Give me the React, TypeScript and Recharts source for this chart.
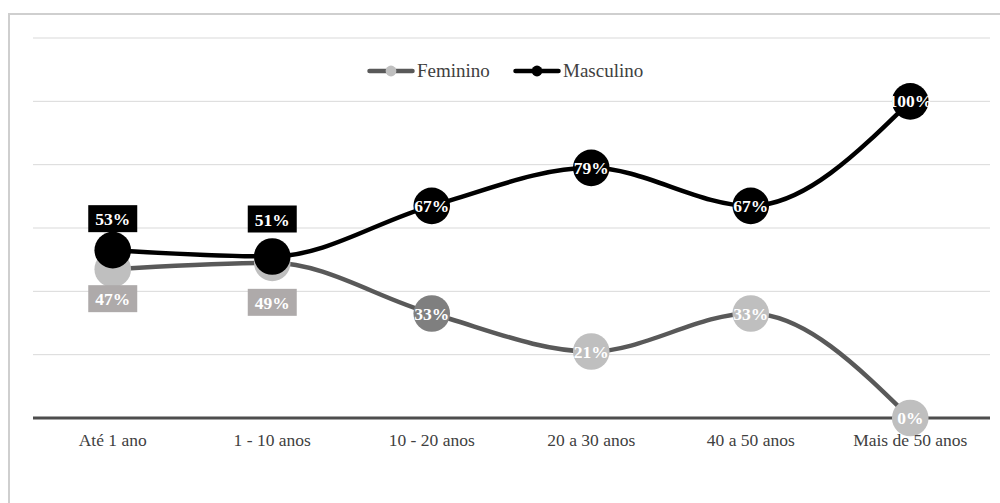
import React from 'react';
import { LineChart, Line, XAxis, YAxis, CartesianGrid, LabelList } from 'recharts';

// Faixas etárias e percentuais por sexo
const categories = ['Até 1 ano', '1 - 10 anos', '10 - 20 anos', '20 a 30 anos', '40 a 50 anos', 'Mais de 50 anos'];
const feminino = [47, 49, 33, 21, 33, 0];
const masculino = [53, 51, 67, 79, 67, 100];
const yTicks = [0, 20, 40, 60, 80, 100, 120];

const data = categories.map((faixa, i) => ({
  faixa,
  Feminino: feminino[i],
  Masculino: masculino[i],
}));

const SERIF = '"Liberation Serif", "Times New Roman", serif';
const FEM_LINE = '#595959';
const MASC_LINE = '#000000';
const femDotColors = ['#bfbfbf', '#bfbfbf', '#7f7f7f', '#bfbfbf', '#bfbfbf', '#bfbfbf'];
const DOT_R = 18.3;
// Meia largura de cada faixa do eixo de categorias (957 px / 6 / 2)
const HALF_BAND = 79.75;

// Rótulos em caixa: deslocamento vertical do topo da caixa em relação ao ponto
const mascBoxOffsets: Record<number, number> = { 0: -45, 1: -51 };
const femBoxOffsets: Record<number, number> = { 0: 16, 1: 26 };

const renderFemDot = (p: any) => (
  <circle key={`fd-${p.index}`} cx={p.cx} cy={p.cy} r={DOT_R} fill={femDotColors[p.index]} />
);
const renderMascDot = (p: any) => (
  <circle key={`md-${p.index}`} cx={p.cx} cy={p.cy} r={DOT_R} fill={MASC_LINE} />
);

const makeLabel = (offsets: Record<number, number>, boxFill: string) => (p: any) => {
  const x = p.x ?? p.viewBox?.x;
  const y = p.y ?? p.viewBox?.y;
  const index = p.index;
  const text = `${p.value}%`;
  const style = {
    fontFamily: SERIF,
    fontWeight: 700,
    fontSize: 17.5,
    fill: '#ffffff',
  } as const;
  if (offsets[index] !== undefined) {
    const top = y + offsets[index];
    return (
      <g key={`lb-${index}`}>
        <rect x={x - 24.5} y={top} width={49} height={27} fill={boxFill} />
        <text x={x} y={top + 20} textAnchor="middle" style={style}>
          {text}
        </text>
      </g>
    );
  }
  return (
    <text key={`lb-${index}`} x={x} y={y + 6} textAnchor="middle" style={style}>
      {text}
    </text>
  );
};

const femLabel = makeLabel(femBoxOffsets, '#aeaaaa');
const mascLabel = makeLabel(mascBoxOffsets, '#000000');

const LegendItem = ({ left, line, dot, label }: { left: number; line: string; dot: string; label: string }) => (
  <div
    style={{
      position: 'absolute',
      left,
      top: 58,
      display: 'flex',
      alignItems: 'center',
      fontFamily: SERIF,
      fontSize: 19,
      color: '#404040',
      lineHeight: '26px',
      whiteSpace: 'nowrap',
    }}
  >
    <svg width={48} height={26} style={{ display: 'block' }}>
      <line x1={2.5} y1={13} x2={45.5} y2={13} stroke={line} strokeWidth={4.5} strokeLinecap="round" />
      <circle cx={24} cy={13} r={5.4} fill={dot} />
    </svg>
    <span style={{ marginLeft: 2 }}>{label}</span>
  </div>
);

export default function App() {
  return (
    <div
      style={{
        position: 'fixed',
        left: 0,
        top: 0,
        width: 1000,
        height: 503,
        overflow: 'hidden',
        background: '#ffffff',
      }}
    >
      <div
        style={{
          position: 'absolute',
          left: 8,
          top: 13,
          width: 1010,
          height: 520,
          border: '2px solid #cfcfcf',
          boxSizing: 'border-box',
        }}
      />
      <div style={{ position: 'absolute', left: 0, top: 0 }}>
        <LineChart width={1000} height={503} data={data} margin={{ top: 38, right: 10, bottom: 55, left: 33 }}>
          <CartesianGrid vertical={false} stroke="#d9d9d9" strokeWidth={1} />
          <YAxis hide domain={[0, 120]} ticks={yTicks} type="number" />
          <XAxis
            dataKey="faixa"
            height={30}
            padding={{ left: HALF_BAND, right: HALF_BAND }}
            axisLine={{ stroke: '#4d4d4d', strokeWidth: 3 }}
            tickLine={false}
            tickMargin={9.3}
            interval={0}
            tick={{ fontFamily: SERIF, fontSize: 17.5, fill: '#404040' }}
          />
          <Line
            type="monotone"
            dataKey="Feminino"
            stroke={FEM_LINE}
            strokeWidth={4.5}
            dot={renderFemDot}
            activeDot={false}
            isAnimationActive={false}
          >
            <LabelList dataKey="Feminino" content={femLabel} />
          </Line>
          <Line
            type="monotone"
            dataKey="Masculino"
            stroke={MASC_LINE}
            strokeWidth={4.5}
            dot={renderMascDot}
            activeDot={false}
            isAnimationActive={false}
          >
            <LabelList dataKey="Masculino" content={mascLabel} />
          </Line>
        </LineChart>
      </div>
      <LegendItem left={367} line={FEM_LINE} dot="#bfbfbf" label="Feminino" />
      <LegendItem left={513} line={MASC_LINE} dot={MASC_LINE} label="Masculino" />
    </div>
  );
}
